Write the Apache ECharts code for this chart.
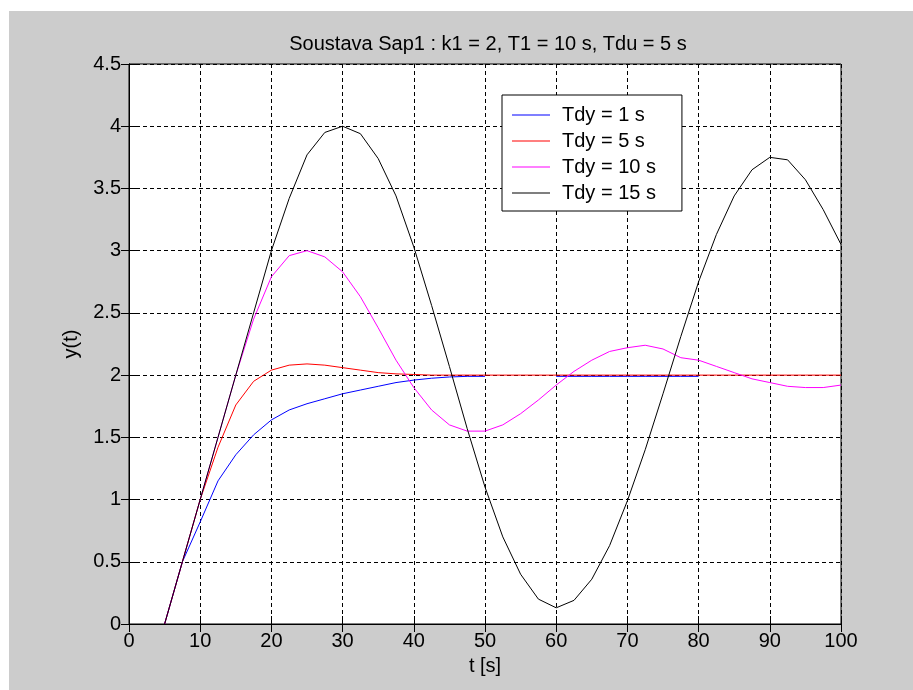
<!DOCTYPE html>
<html>
<head>
<meta charset="utf-8">
<script src="https://cdn.jsdelivr.net/npm/echarts@6/dist/echarts.min.js"></script>
<style>
  body { margin: 0; background: #fff; }
  #frame { position: absolute; left: 9px; top: 11px; width: 904px; height: 679px; background: #cccccc; }
  #chart { position: absolute; left: 0; top: 0; width: 913px; height: 690px; }
</style>
</head>
<body>
<div id="frame"></div>
<div id="chart"></div>
<script>
// time axis, seconds
const tSec = [5, 7.5, 10, 12.5, 15, 17.5, 20, 22.5, 25, 27.5, 30, 32.5, 35, 37.5, 40, 42.5, 45, 47.5, 50,
  52.5, 55, 57.5, 60, 62.5, 65, 67.5, 70, 72.5, 75, 77.5, 80, 82.5, 85, 87.5, 90, 92.5, 95, 97.5, 100]

// Tdy = 1 s (gap between 50 and 60, ends at 80)
const yTdy1 = [0, 0.5, 0.82, 1.15, 1.36, 1.52, 1.64, 1.72, 1.77, 1.81, 1.85, 1.88, 1.91, 1.94, 1.96, 1.975, 1.985, 1.99, 1.99,
  null, null, null, 1.99, 1.99, 1.99, 1.99, 1.99, 1.99, 1.99, 1.99, 1.99,
  null, null, null, null, null, null, null, null]
// Tdy = 5 s
const yTdy5 = [0, 0.5, 1.0, 1.42, 1.76, 1.95, 2.04, 2.08, 2.09, 2.08, 2.06, 2.04, 2.02, 2.01, 2.005, 2, 2, 2, 2,
  2, 2, 2, 2, 2, 2, 2, 2, 2, 2, 2, 2, 2, 2, 2, 2, 2, 2, 2, 2]
// Tdy = 10 s
const yTdy10 = [0, 0.5, 1.0, 1.5, 2.0, 2.45, 2.79, 2.96, 3.0, 2.95, 2.83, 2.63, 2.38, 2.12, 1.90, 1.72, 1.60, 1.55, 1.55,
  1.60, 1.69, 1.80, 1.92, 2.03, 2.12, 2.19, 2.22, 2.24, 2.21, 2.14, 2.12, 2.07, 2.02, 1.97, 1.94, 1.91, 1.90, 1.90, 1.92]
// Tdy = 15 s
const yTdy15 = [0, 0.5, 1.0, 1.5, 2.0, 2.5, 3.0, 3.42, 3.77, 3.95, 4.0, 3.94, 3.74, 3.44, 3.03, 2.56, 2.07, 1.57, 1.10,
  0.70, 0.40, 0.20, 0.13, 0.19, 0.36, 0.63, 0.99, 1.40, 1.85, 2.31, 2.75, 3.13, 3.44, 3.65, 3.75, 3.73, 3.57, 3.33, 3.05]

const seriesNames = ['Tdy = 1 s', 'Tdy = 5 s', 'Tdy = 10 s', 'Tdy = 15 s']
const seriesColors = ['#0000ff', '#ff0000', '#ff00ff', '#000000']
const seriesValues = [yTdy1, yTdy5, yTdy10, yTdy15]

const font = '"Liberation Sans", Arial, sans-serif'
const gridLine = { show: true, lineStyle: { color: '#000', type: [4, 3], width: 1 } }

let mychart = echarts.init(document.getElementById('chart'))
mychart.setOption({
  backgroundColor: 'transparent',
  animation: false,
  textStyle: { fontFamily: font },
  title: {
    text: 'Soustava Sap1 : k1 = 2, T1 = 10 s, Tdu = 5 s',
    left: 483,
    top: 29,
    textAlign: 'center',
    textStyle: { fontSize: 20, fontWeight: 'normal', color: '#000', fontFamily: font },
  },
  legend: {
    orient: 'vertical',
    left: 502,
    top: 95,
    padding: [10, 26, 8, 10],
    itemGap: 6,
    itemWidth: 38,
    itemHeight: 1,
    icon: 'rect',
    backgroundColor: '#fff',
    borderColor: '#000',
    borderWidth: 1,
    textStyle: { fontSize: 20, color: '#000', fontFamily: font, padding: [0, 0, 0, 7] },
    data: seriesNames,
  },
  grid: {
    left: 129,
    right: 72,
    top: 64,
    bottom: 66,
    show: true,
    backgroundColor: '#fff',
    borderColor: '#000',
    borderWidth: 1,
  },
  xAxis: [
    {
      type: 'value',
      min: 0,
      max: 100,
      interval: 10,
      name: 't [s]',
      nameLocation: 'middle',
      nameGap: 32,
      nameTextStyle: { fontSize: 20, color: '#000' },
      axisLine: { show: true, lineStyle: { color: '#000' } },
      axisTick: { show: true, inside: true, length: 8, lineStyle: { color: '#000' } },
      axisLabel: { fontSize: 20, color: '#000', margin: 7 },
      splitLine: gridLine,
    },
    {
      type: 'value',
      position: 'top',
      min: 0,
      max: 100,
      interval: 10,
      axisLine: { show: true, lineStyle: { color: '#000' } },
      axisTick: { show: true, inside: true, length: 8, lineStyle: { color: '#000' } },
      axisLabel: { show: false },
      splitLine: { show: false },
    },
  ],
  yAxis: [
    {
      type: 'value',
      min: 0,
      max: 4.5,
      interval: 0.5,
      name: 'y(t)',
      nameLocation: 'middle',
      nameGap: 48,
      nameTextStyle: { fontSize: 20, color: '#000' },
      axisLine: { show: true, lineStyle: { color: '#000' } },
      axisTick: { show: true, inside: true, length: 8, lineStyle: { color: '#000' } },
      axisLabel: { fontSize: 20, color: '#000', margin: 8 },
      splitLine: gridLine,
    },
    {
      type: 'value',
      position: 'right',
      min: 0,
      max: 4.5,
      interval: 0.5,
      axisLine: { show: true, lineStyle: { color: '#000' } },
      axisTick: { show: true, inside: true, length: 8, lineStyle: { color: '#000' } },
      axisLabel: { show: false },
      splitLine: { show: false },
    },
  ],
  series: seriesNames.map((name, i) => ({
    name: name,
    type: 'line',
    symbol: 'none',
    smooth: false,
    connectNulls: false,
    color: seriesColors[i],
    lineStyle: { width: 1, color: seriesColors[i] },
    data: tSec.map((t, j) => [t, seriesValues[i][j]]),
  })),
})
</script>
</body>
</html>
